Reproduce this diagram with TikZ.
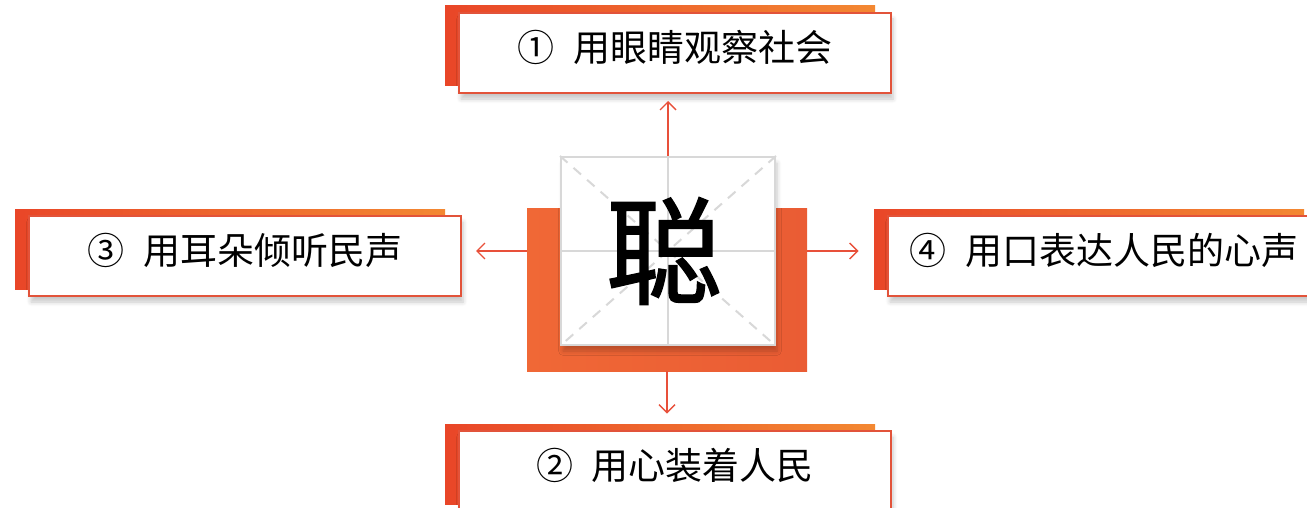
\documentclass[tikz,border=0pt]{standalone}
\usepackage{fontspec}
\setmainfont{Noto Sans CJK SC}
\newfontfamily\zifont{Noto Sans CJK SC}[FakeBold=1.6]
\usetikzlibrary{arrows.meta, shadows.blur}
\definecolor{BoxRed}{RGB}{226,83,58}
\definecolor{BackRed}{RGB}{233,70,40}
\definecolor{BackOrange}{RGB}{243,136,50}
\definecolor{BaseLight}{RGB}{240,104,54}
\definecolor{BaseDark}{RGB}{212,44,18}
\definecolor{BaseRight}{RGB}{234,92,52}
\definecolor{GridGray}{RGB}{216,216,216}
\definecolor{ArrowRed}{RGB}{232,80,58}
\tikzset{softshadow/.style={blur shadow={shadow xshift=1pt, shadow yshift=-3pt, shadow opacity=22, shadow blur steps=6}}}
\tikzset{back/.style={rectangle, inner sep=0pt, minimum width=215pt, minimum height=40pt, left color=BackRed, right color=BackOrange}}
\tikzset{topic/.style={rectangle, draw=BoxRed, line width=1pt, fill=white, inner sep=0pt, minimum width=216pt, minimum height=40pt, text height=14.25pt, text depth=5.75pt, font=\fontsize{18.5}{22}\selectfont, softshadow}}
\tikzset{next/.style={draw=ArrowRed, line width=0.7pt, -{Straight Barb[length=4pt, width=8pt]}}}
\newcommand{\topicbox}[4]{
  \node[back] (#1back) at (#2-15, #3-7) {};
  \node[topic] (#1) at (#2, #3) {#4};
}

\begin{document}
\begin{tikzpicture}[x=0.5pt, y=-0.5pt]
  \useasboundingbox (0,0) rectangle (1307,508);

  % --- the four topics ---
  \topicbox{eyes}{675}{53}{①\hspace{0.5em}用眼睛观察社会}
  \topicbox{ears}{245}{256}{③\hspace{0.5em}用耳朵倾听民声}
  \topicbox{mouth}{1104}{256}{④\hspace{0.5em}用口表达人民的心声}
  \topicbox{heart}{675}{471}{②\hspace{0.5em}用心装着人民}

  % --- centre character ---
  \node[rectangle, inner sep=0pt, minimum width=140pt, minimum height=81.5pt,
        left color=BaseLight, middle color=BaseDark, right color=BaseRight] (base) at (667,289.5) {};
  \node[rectangle, draw=GridGray, line width=1pt, fill=white, inner sep=0pt,
        minimum width=107pt, minimum height=94pt, softshadow] (grid) at (668,251) {};
  \draw[GridGray, line width=1pt] (grid.north) -- (grid.south)
                                  (grid.west) -- (grid.east);
  \draw[GridGray, line width=1pt, dash pattern=on 5pt off 4pt]
        (grid.north west) -- (grid.south east)
        (grid.north east) -- (grid.south west);
  \node[font=\fontsize{58}{58}\selectfont\zifont] (zi) at ([xshift=-2pt]grid.center) {聪};

  % --- arrows ---
  \draw[next, shorten >=3.5pt] (grid.north) -- (grid.north |- eyes.south);
  \draw[next, shorten >=5pt] (base.south) -- (base.south |- heartback.north);
  \draw[next, shorten >=7pt] (grid.center -| base.west) -- (grid.center -| ears.east);
  \draw[next, shorten >=7.5pt] (grid.center -| base.east) -- (grid.center -| mouthback.west);
\end{tikzpicture}
\end{document}
